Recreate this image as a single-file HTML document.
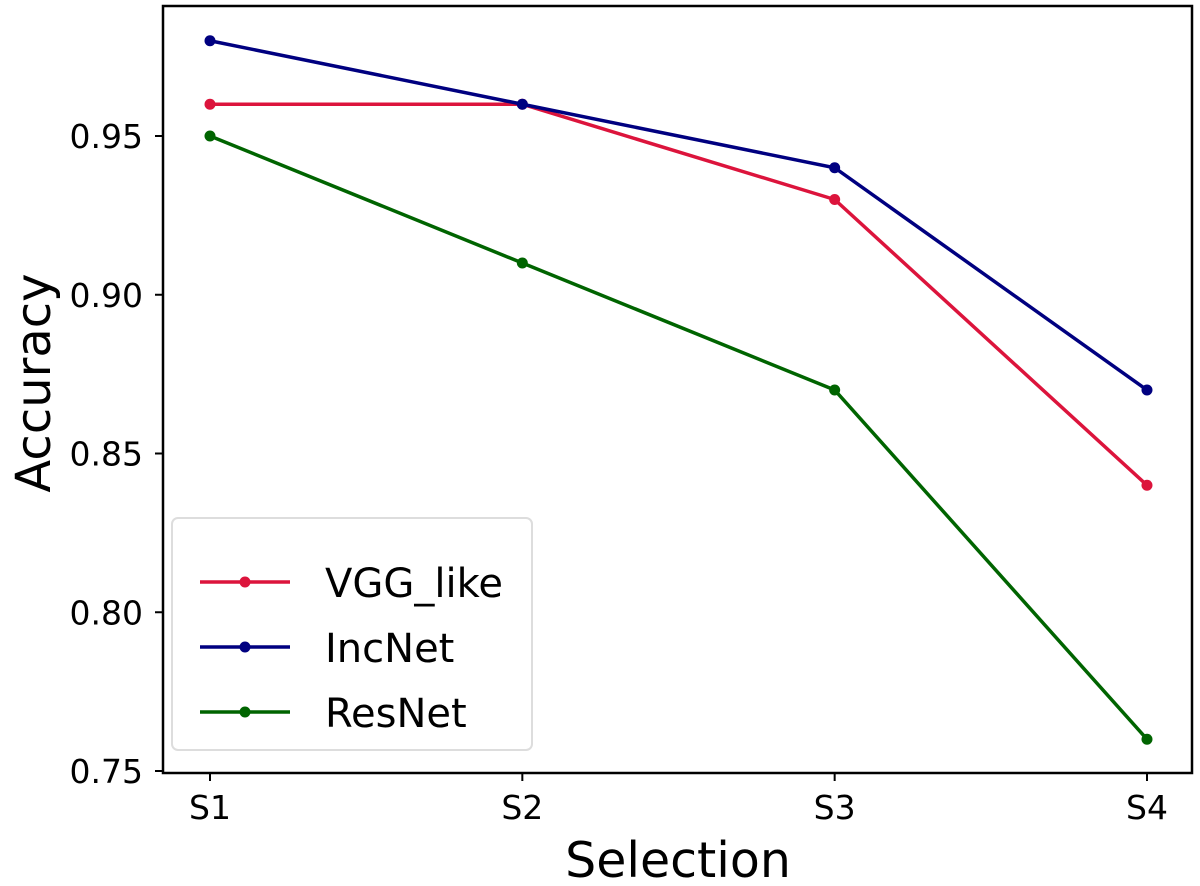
<!DOCTYPE html>
<html><head><meta charset="utf-8"><style>
body{margin:0;background:#fff}
svg{display:block;font-family:"DejaVu Sans","Liberation Sans",sans-serif}
</style></head><body>
<svg id="chart" width="1200" height="886">
<rect x="163" y="6" width="1029" height="767" fill="none" stroke="#000" stroke-width="2.5"/>
<g id="ticks"></g><g id="series"></g>
<text x="678" y="877" font-size="49" text-anchor="middle">Selection</text>
<text transform="translate(50,383) rotate(-90)" font-size="48" text-anchor="middle">Accuracy</text>
<g>
<rect x="172" y="518" width="360" height="232" rx="6" fill="#fff" stroke="#ddd" stroke-width="2"/>
<g id="legend"></g>
</g>
</svg>
<script>
const categories=["S1","S2","S3","S4"];
const vgg=[0.96,0.96,0.93,0.84];
const inc=[0.98,0.96,0.94,0.87];
const res=[0.95,0.91,0.87,0.76];
const yTicks=[0.75,0.80,0.85,0.90,0.95];
const yTickLabels=["0.75","0.80","0.85","0.90","0.95"];
const names=["VGG_like","IncNet","ResNet"];
const colors=["#dc143c","#000080","#006400"];
const NS="http://www.w3.org/2000/svg";
const x=i=>210+i*312.33;
const y=v=>771-(v-0.75)/0.05*158.75;
function mk(t,a,p){const e=document.createElementNS(NS,t);for(const k in a)e.setAttribute(k,a[k]);p.appendChild(e);return e;}
const tg=document.getElementById('ticks');
yTicks.forEach((v,i)=>{
 const l=mk('line',{x1:155,x2:163,y1:y(v),y2:y(v),stroke:'#000','stroke-width':2},tg);
 
 
 const t=mk('text',{x:143,y:y(v)+12,'font-size':33,'text-anchor':'end'},tg);t.textContent=yTickLabels[i];
 
 
});
categories.forEach((c,i)=>{
 const l=mk('line',{x1:x(i),x2:x(i),y1:773,y2:781,stroke:'#000','stroke-width':2},tg);
 
 
 const t=mk('text',{x:x(i),y:819,'font-size':33,'text-anchor':'middle'},tg);t.textContent=c;
 
 
});
const sg=document.getElementById('series');
const lg=document.getElementById('legend');
[vgg,inc,res].forEach((d,s)=>{
 const p=mk('polyline',{points:d.map((v,i)=>x(i)+','+y(v)).join(' '),fill:'none',stroke:colors[s],'stroke-width':3.5},sg);
 
 
 d.forEach((v,i)=>{const c=mk('circle',{cx:x(i),cy:y(v),r:5.5,fill:colors[s]},sg);
  
  });
 const ly=582+s*65;
 const g=mk('g',{},lg);
 
 
 mk('line',{x1:200,x2:290,y1:ly,y2:ly,stroke:colors[s],'stroke-width':3.5},g);
 mk('circle',{cx:245,cy:ly,r:5.5,fill:colors[s]},g);
 const t=mk('text',{x:325,y:ly+15,'font-size':40},g);t.textContent=names[s];
});
</script>
</body></html>
